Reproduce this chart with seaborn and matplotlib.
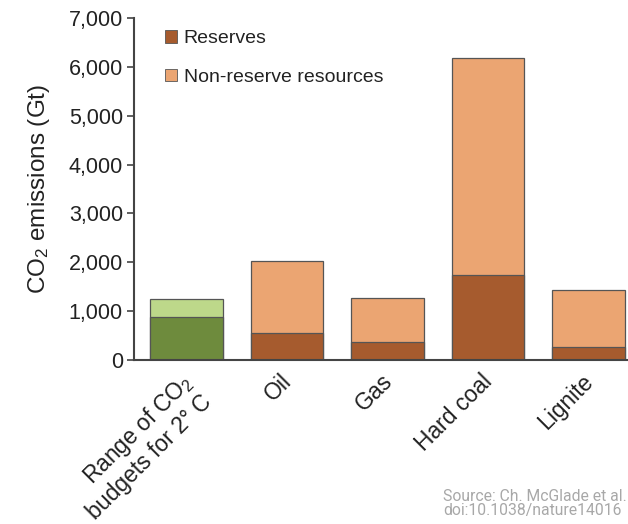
import matplotlib
matplotlib.use("Agg")
import matplotlib.pyplot as plt
import matplotlib.transforms as mtransforms
import seaborn as sns
import pandas as pd
from matplotlib.patches import Patch

categories = ["Range of CO$_2$\nbudgets for 2° C", "Oil", "Gas", "Hard coal", "Lignite"]
totals = [1250, 2030, 1260, 6180, 1440]
reserves = [870, 550, 375, 1740, 270]
y_ticks = [0, 1000, 2000, 3000, 4000, 5000, 6000, 7000]

sns.set_theme(style="white")
plt.rcParams['font.family'] = ['Liberation Sans', 'DejaVu Sans']
plt.rcParams['mathtext.fontset'] = 'custom'
plt.rcParams['mathtext.rm'] = 'Liberation Sans'
plt.rcParams['mathtext.it'] = 'Liberation Sans'
plt.rcParams['mathtext.default'] = 'regular'

df = pd.DataFrame({"cat": categories, "total": totals, "reserve": reserves})

fig = plt.figure(figsize=(6.28, 5.24), dpi=100)
ax = fig.add_axes([0.2134, 0.313, 0.807, 0.6527])

light = ["#BDD88A", "#EBA572", "#EBA572", "#EBA572", "#EBA572"]
dark = ["#6E8B3D", "#A65B2E", "#A65B2E", "#A65B2E", "#A65B2E"]

sns.barplot(data=df, x="cat", y="total", hue="cat", palette=light, width=0.72,
            edgecolor="#555555", linewidth=0.9, legend=False, ax=ax, saturation=1)
sns.barplot(data=df, x="cat", y="reserve", hue="cat", palette=dark, width=0.72,
            edgecolor="#555555", linewidth=0.9, legend=False, ax=ax, saturation=1)

ax.set_xlim(-0.52, 4.52)
ax.set_ylim(0, 7000)
ax.set_yticks(y_ticks)
ax.set_yticklabels([f"{v:,}" for v in y_ticks], fontsize=15.5, color="#222222")
ax.set_xlabel("")
ax.set_ylabel("CO$_2$ emissions (Gt)", fontsize=17.5, labelpad=12, color="#222222")
ax.set_xticks(range(len(categories)))
ax.set_xticklabels(categories, rotation=45, ha="right", rotation_mode="anchor",
                   fontsize=16.5, linespacing=1.15, color="#222222")
ax.tick_params(axis="y", which="both", left=True, length=5, width=1.2,
               color="#444444", pad=3)
ax.tick_params(axis="x", bottom=False, pad=1)
shift = mtransforms.ScaledTranslation(-5 / 72, 0, fig.dpi_scale_trans)
for lbl in ax.get_xticklabels():
    lbl.set_transform(lbl.get_transform() + shift)

for s in ["top", "right"]:
    ax.spines[s].set_visible(False)
for s in ["left", "bottom"]:
    ax.spines[s].set_color("#444444")
    ax.spines[s].set_linewidth(1.5)

handles = [Patch(facecolor="#A65B2E", edgecolor="#555555", linewidth=0.6, label="Reserves"),
           Patch(facecolor="#EBA572", edgecolor="#555555", linewidth=0.6, label="Non-reserve resources")]
ax.legend(handles=handles, loc="upper left", bbox_to_anchor=(0.027, 1.015), frameon=False,
          fontsize=14, handlelength=0.6, handleheight=0.6, handletextpad=0.35,
          labelspacing=1.1, labelcolor="#222222")

fig.text(443 / 628, 1 - 518 / 524, "Source: Ch. McGlade et al.\ndoi:10.1038/nature14016",
         fontsize=11.3, color="#A8A8A8", ha="left", va="bottom", linespacing=0.95,
         family=["Roboto", "DejaVu Sans"])

fig.savefig("out.png", dpi=100)
